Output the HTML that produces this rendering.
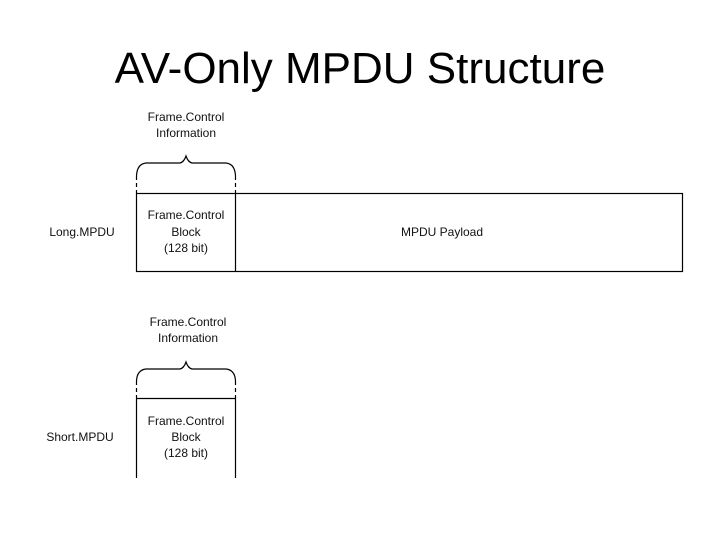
<!DOCTYPE html>
<html><head><style>
body{margin:0;width:720px;height:540px;background:#fff;overflow:hidden}
</style></head><body>
<svg width="720" height="540" xmlns="http://www.w3.org/2000/svg" font-family="Liberation Sans, sans-serif">
<text x="360" y="83" font-size="44" text-anchor="middle" fill="#000">AV-Only MPDU Structure</text>
<g font-size="12" fill="#111" text-anchor="middle">
<text x="186" y="121">Frame.Control</text>
<text x="186" y="137">Information</text>
<text x="186" y="219">Frame.Control</text>
<text x="186" y="236">Block</text>
<text x="186" y="252">(128 bit)</text>
<text x="442" y="236">MPDU Payload</text>
<text x="82" y="236">Long.MPDU</text>
<text x="188" y="326">Frame.Control</text>
<text x="188" y="342">Information</text>
<text x="186" y="425">Frame.Control</text>
<text x="186" y="441">Block</text>
<text x="186" y="457">(128 bit)</text>
<text x="80" y="441">Short.MPDU</text>
</g>
<g fill="none" stroke="#000" stroke-width="1.2">
<rect x="136.5" y="193.5" width="546" height="78"/>
<line x1="235.5" y1="193" x2="235.5" y2="272"/>
<path d="M136.5 176 Q137 164 146 163 L180 163 Q184 162 186 156 Q188 162 192 163 L226 163 Q235 164 235.5 176"/>
<path d="M136.5 176 V193 M235.5 176 V193" stroke-dasharray="4,3"/>
<path d="M136.5 398.5 V478 M235.5 398.5 V478 M136 398.5 H236"/>
<path d="M136.5 381 Q137 370 146 369 L180 369 Q184 368 186 362 Q188 368 192 369 L226 369 Q235 370 235.5 381"/>
<path d="M136.5 381 V398 M235.5 381 V398" stroke-dasharray="4,3"/>
</g>
</svg>
</body></html>
